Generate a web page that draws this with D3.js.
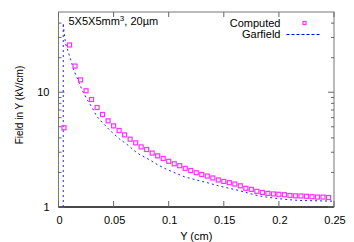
<!DOCTYPE html>
<html>
<head>
<meta charset="utf-8">
<script src="https://cdn.jsdelivr.net/npm/d3@7"></script>
<style>
  body { margin: 0; background: #fff; }
  text { font-family: "Liberation Sans", Arial, sans-serif; fill: #000; }
  .tick-label { font-size: 11px; }
  .axis-label { font-size: 10px; }
</style>
</head>
<body>
<div id="chart"></div>
<script>
// Computed field values (Y position in cm, field in kV/cm)
var computedY = [0.005, 0.01, 0.015, 0.02, 0.025, 0.03, 0.035, 0.04, 0.045, 0.05,
    0.055, 0.06, 0.065, 0.07, 0.075, 0.08, 0.085, 0.09, 0.095, 0.1,
    0.105, 0.11, 0.115, 0.12, 0.125, 0.13, 0.135, 0.14, 0.145, 0.15,
    0.155, 0.16, 0.165, 0.17, 0.175, 0.18, 0.185, 0.19, 0.195, 0.2,
    0.205, 0.21, 0.215, 0.22, 0.225, 0.23, 0.235, 0.24, 0.245];
var computedField = [4.9, 25.8, 16.9, 12.8, 10.3, 8.64, 7.36, 6.4, 5.63, 5.09,
    4.64, 4.25, 3.9, 3.62, 3.34, 3.17, 2.95, 2.79, 2.65, 2.5,
    2.38, 2.29, 2.17, 2.08, 1.99, 1.92, 1.86, 1.79, 1.72, 1.67,
    1.63, 1.585, 1.53, 1.455, 1.425, 1.37, 1.34, 1.315, 1.3, 1.29,
    1.28, 1.26, 1.25, 1.247, 1.24, 1.23, 1.22, 1.22, 1.21];

// Garfield curve
var garfieldY = [0.0043, 0.0043, 0.005, 0.0064, 0.0103, 0.014, 0.0178, 0.0215, 0.0264, 0.031,
    0.0345, 0.0405, 0.048, 0.0556, 0.063, 0.0707, 0.0746, 0.082, 0.0894, 0.098,
    0.107, 0.1145, 0.125, 0.134, 0.145, 0.155, 0.164, 0.173, 0.182, 0.1915,
    0.2005, 0.21, 0.219, 0.228, 0.24, 0.25];
var garfieldField = [1, 40, 34, 26.5, 20.3, 15.5, 12.7, 10.4, 8.5, 7.2,
    6.2, 5.35, 4.52, 3.9, 3.46, 2.99, 2.83, 2.6, 2.35, 2.13,
    1.96, 1.83, 1.72, 1.64, 1.53, 1.455, 1.39, 1.315, 1.25, 1.21,
    1.18, 1.157, 1.14, 1.135, 1.13, 1.125];

var xTicks = [0, 0.05, 0.1, 0.15, 0.2, 0.25];
var xTickLabels = ["0", "0.05", "0.1", "0.15", "0.2", "0.25"];
var yMajorTicks = [1, 10];
var yMinorTicks = [2, 3, 4, 5, 6, 7, 8, 9, 20, 30, 40];

var margin = { top: 12, right: 20, bottom: 35, left: 58.5 };
var width = 354 - margin.left - margin.right,
    height = 242 - margin.top - margin.bottom;

var svg = d3.select('#chart')
    .append('svg')
    .attr('width', 354)
    .attr('height', 242)
    .append('g')
    .attr('transform', "translate(" + margin.left + "," + margin.top + ")");

var xScale = d3.scaleLinear().domain([0, 0.25]).range([0, width]);
var yScale = d3.scaleLog().domain([1, 50]).range([height, 0]);

// frame
svg.append('rect')
    .attr('width', width)
    .attr('height', height)
    .attr('fill', 'none')
    .attr('stroke', '#777')
    .attr('stroke-width', 1);

svg.append('line')
    .attr('x1', 0).attr('x2', width)
    .attr('y1', height).attr('y2', height)
    .attr('stroke', '#222')
    .attr('stroke-width', 1.5);

// inward ticks on all sides
var ticks = svg.append('g').attr('stroke', '#666').attr('stroke-width', 1);

xTicks.forEach(function(d) {
    var x = xScale(d);
    ticks.append('line').attr('x1', x).attr('x2', x).attr('y1', height).attr('y2', height - 6);
    ticks.append('line').attr('x1', x).attr('x2', x).attr('y1', 0).attr('y2', 5);
});

yMajorTicks.forEach(function(d) {
    var y = yScale(d);
    ticks.append('line').attr('x1', 0).attr('x2', 6).attr('y1', y).attr('y2', y);
    ticks.append('line').attr('x1', width).attr('x2', width - 6).attr('y1', y).attr('y2', y);
});

yMinorTicks.forEach(function(d) {
    var y = yScale(d);
    ticks.append('line').attr('x1', 0).attr('x2', 3).attr('y1', y).attr('y2', y);
    ticks.append('line').attr('x1', width).attr('x2', width - 3).attr('y1', y).attr('y2', y);
});

svg.selectAll('.x-label')
    .data(xTicks)
    .enter()
    .append('text')
    .attr('class', 'tick-label x-label')
    .attr('x', function(d) { return xScale(d) + 1; })
    .attr('y', height + 17)
    .attr('text-anchor', 'middle')
    .text(function(d, i) { return xTickLabels[i]; });

svg.selectAll('.y-label')
    .data(yMajorTicks)
    .enter()
    .append('text')
    .attr('class', 'tick-label y-label')
    .attr('x', -9)
    .attr('y', function(d) { return yScale(d) + 4; })
    .attr('text-anchor', 'end')
    .text(function(d) { return d; });

// axis titles
svg.append('text')
    .attr('class', 'axis-label')
    .attr('x', width / 2)
    .attr('y', height + 33)
    .attr('text-anchor', 'middle')
    .style('font-size', '11px')
    .text('Y (cm)');

svg.append('text')
    .attr('class', 'axis-label')
    .attr('text-anchor', 'middle')
    .attr('transform', "translate(" + (-36) + "," + (93) + ")rotate(-90)")
    .text('Field in Y (kV/cm)');

// Garfield line
var line = d3.line()
    .x(function(d) { return xScale(d[0]); })
    .y(function(d) { return yScale(d[1]); });

svg.append('path')
    .datum(garfieldY.map(function(d, i) { return [d, garfieldField[i]]; }))
    .attr('d', line)
    .attr('fill', 'none')
    .attr('stroke', '#2020ff')
    .attr('stroke-width', 1)
    .attr('stroke-dasharray', '2,3');

// Computed points
svg.selectAll('.point')
    .data(computedY)
    .enter()
    .append('rect')
    .attr('class', 'point')
    .attr('x', function(d) { return xScale(d) - 2; })
    .attr('y', function(d, i) { return yScale(computedField[i]) - 2; })
    .attr('width', 4)
    .attr('height', 4)
    .attr('fill', 'none')
    .attr('stroke', '#ff30ff')
    .attr('stroke-width', 1.2);

// label
var note = svg.append('text')
    .attr('x', 10)
    .attr('y', 13)
    .style('font-size', '11px');
note.append('tspan').text('5X5X5mm');
note.append('tspan').attr('dy', -4).style('font-size', '8px').text('3');
note.append('tspan').attr('dy', 4).text(', 20\u00b5m');

// legend
var legend = svg.append('g');
legend.append('text')
    .attr('x', 222)
    .attr('y', 15)
    .attr('text-anchor', 'end')
    .style('font-size', '11px')
    .text('Computed');
legend.append('rect')
    .attr('x', 244.5).attr('y', 9.5)
    .attr('width', 3).attr('height', 3)
    .attr('fill', 'none')
    .attr('stroke', '#ff30ff')
    .attr('stroke-width', 1.2);
legend.append('text')
    .attr('x', 222)
    .attr('y', 26)
    .attr('text-anchor', 'end')
    .style('font-size', '11px')
    .text('Garfield');
legend.append('line')
    .attr('x1', 228).attr('x2', 262)
    .attr('y1', 22.5).attr('y2', 22.5)
    .attr('stroke', '#0000ff')
    .attr('stroke-width', 1)
    .attr('stroke-dasharray', '3,2');
</script>
</body>
</html>
